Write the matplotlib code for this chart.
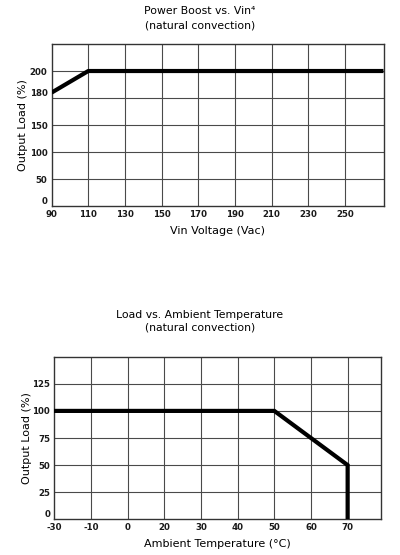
import matplotlib
matplotlib.use("Agg")
import matplotlib.pyplot as plt
import numpy as np

# Power boost vs. input voltage
vin = [90, 110, 271]
boost = [180, 200, 200]
vin_ticks = [90, 110, 130, 150, 170, 190, 210, 230, 250]
boost_ticks = [0, 50, 100, 150, 180, 200]
boost_grid = [50, 100, 150, 175, 200]

# Load vs. ambient temperature
temp = [-30, 50, 70, 70]
load = [100, 100, 50, 0]
temp_ticks = [-30, -10, 0, 20, 30, 40, 50, 60, 70]
load_ticks = [0, 25, 50, 75, 100, 125]

GRID = "#4a4a4a"
FS = 7.8


def boost_fwd(y):
    y = np.asarray(y, dtype=float)
    return np.where(y <= 150, y / 50.0, 3 + (y - 150) / 25.0)


def boost_inv(v):
    v = np.asarray(v, dtype=float)
    return np.where(v <= 3, v * 50.0, 150 + (v - 3) * 25.0)


# chart cells are equal width although the labels are not evenly spaced
t_pos = temp_ticks + [80]
t_idx = list(range(len(temp_ticks))) + [len(temp_ticks)]


def temp_fwd(x):
    return np.interp(x, t_pos, t_idx)


def temp_inv(v):
    return np.interp(v, t_idx, t_pos)


def style(ax):
    ax.xaxis.remove_overlapping_locs = False
    ax.yaxis.remove_overlapping_locs = False
    ax.tick_params(which="both", length=0, labelsize=6.2, pad=3,
                   labelcolor="#1a1a1a")
    for lbl in ax.get_xticklabels() + ax.get_yticklabels():
        lbl.set_fontweight("bold")
    # the zero label sits a bit above the bottom edge
    ax.get_yticklabels()[0].set_va("bottom")
    ax.grid(False, which="major")
    ax.grid(True, which="minor", color=GRID, linewidth=0.8)
    ax.set_axisbelow(True)
    for s in ax.spines.values():
        s.set_color("#333333")
        s.set_linewidth(1.0)


fig = plt.figure(figsize=(4.0, 5.55), dpi=100)

ax1 = fig.add_axes([0.129, 0.6288, 0.831, 0.2919])
ax1.set_yscale("function", functions=(boost_fwd, boost_inv))
ax1.plot(vin, boost, color="black", linewidth=3.0, solid_capstyle="butt", zorder=5)
ax1.set_xlim(90, 271.3)
ax1.set_ylim(0, 225)
ax1.set_xticks(vin_ticks)
ax1.set_yticks(boost_ticks)
ax1.set_xticks(vin_ticks[1:], minor=True)
ax1.set_yticks(boost_grid, minor=True)
ax1.set_xlabel("Vin Voltage (Vac)", fontsize=FS + 0.2, labelpad=5)
ax1.set_ylabel("Output Load (%)", fontsize=FS + 0.2)
ax1.yaxis.set_label_coords(-0.072, 0.5)
style(ax1)
fig.text(0.5, 1 - 11 / 555, "Power Boost vs. Vin\u2074", ha="center", va="center", fontsize=FS)
fig.text(0.5, 1 - 25 / 555, "(natural convection)", ha="center", va="center", fontsize=FS)

ax2 = fig.add_axes([0.1358, 0.0643, 0.8167, 0.293])
ax2.set_xscale("function", functions=(temp_fwd, temp_inv))
ax2.plot(temp, load, color="black", linewidth=3.0, solid_joinstyle="miter", zorder=5)
ax2.set_xlim(-30, 79.1)
ax2.set_ylim(0, 150)
ax2.set_xticks(temp_ticks)
ax2.set_xticklabels([str(t) for t in temp_ticks])
ax2.set_yticks(load_ticks)
ax2.set_xticks(temp_ticks[1:], minor=True)
ax2.set_yticks(load_ticks[1:], minor=True)
ax2.set_xlabel("Ambient Temperature (\u00b0C)", fontsize=FS + 0.2, labelpad=5)
ax2.set_ylabel("Output Load (%)", fontsize=FS + 0.2)
ax2.yaxis.set_label_coords(-0.069, 0.5)
style(ax2)
fig.text(0.5, 1 - 315 / 555, "Load vs. Ambient Temperature", ha="center", va="center", fontsize=FS)
fig.text(0.5, 1 - 327 / 555, "(natural convection)", ha="center", va="center", fontsize=FS)

fig.savefig("out.png", dpi=100)
